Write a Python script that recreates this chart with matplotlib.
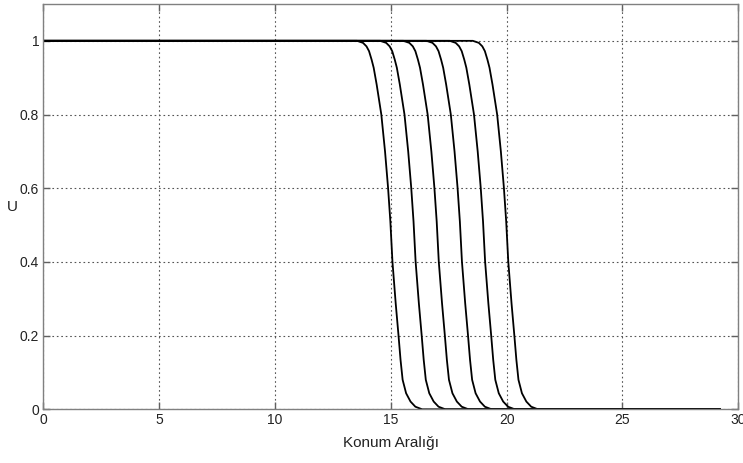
import numpy as np
import matplotlib.pyplot as plt

plt.rcParams['font.family'] = ['Liberation Sans', 'DejaVu Sans']

# front positions (x where U = 0.5) for the six time levels
centres = [15.0, 16.0, 17.0, 18.0, 19.0, 20.0]

# shape of one front: offset from its centre and the U value there
profile_dx = [-1.46, -1.20, -1.05, -0.94, -0.83, -0.74, -0.61, -0.41, -0.25,
              -0.12, -0.02, 0.07, 0.21, 0.33, 0.42, 0.51, 0.66, 0.85, 1.06,
              1.35]
profile_u = [1.0, 0.9945, 0.985, 0.972, 0.949, 0.927, 0.881, 0.8, 0.7,
             0.602, 0.51, 0.401, 0.288, 0.202, 0.134, 0.08, 0.0435, 0.021,
             0.007, 0.0]

x_start, x_end = 0.0, 29.2

xticks = [0, 5, 10, 15, 20, 25, 30]
yticks = [0, 0.2, 0.4, 0.6, 0.8, 1.0]
ytick_labels = ['0', '0.2', '0.4', '0.6', '0.8', '1']

fig = plt.figure(figsize=(7.43, 4.63), dpi=100)
ax = fig.add_axes([0.0583, 0.116, 0.9354, 0.8754])

for c in centres:
    xs = [x_start] + [c + d for d in profile_dx] + [x_end]
    us = [1.0] + profile_u + [0.0]
    ax.plot(xs, us, color='black', linewidth=1.3, solid_joinstyle='round')

ax.set_xlim(0, 30)
ax.set_ylim(0, 1.1)
ax.set_xticks(xticks)
ax.set_xticklabels([str(t) for t in xticks])
ax.set_yticks(yticks)
ax.set_yticklabels(ytick_labels)

ax.grid(True, linestyle=(0, (1.5, 2.5)), color='#555555', linewidth=0.8)
for side in ['left', 'right', 'top', 'bottom']:
    ax.spines[side].set_color('#808080')
    ax.spines[side].set_linewidth(1.0)
ax.tick_params(direction='in', length=5, width=1, color='#606060',
               labelsize=10, labelcolor='#222222', top=True, right=True, pad=3)

ax.set_xlabel('Konum Aralığı', fontsize=11, color='#222222', labelpad=6)
ax.set_ylabel('U', fontsize=11, color='#222222', rotation=0, labelpad=5,
              va='center')

fig.savefig('out.png', dpi=100)
